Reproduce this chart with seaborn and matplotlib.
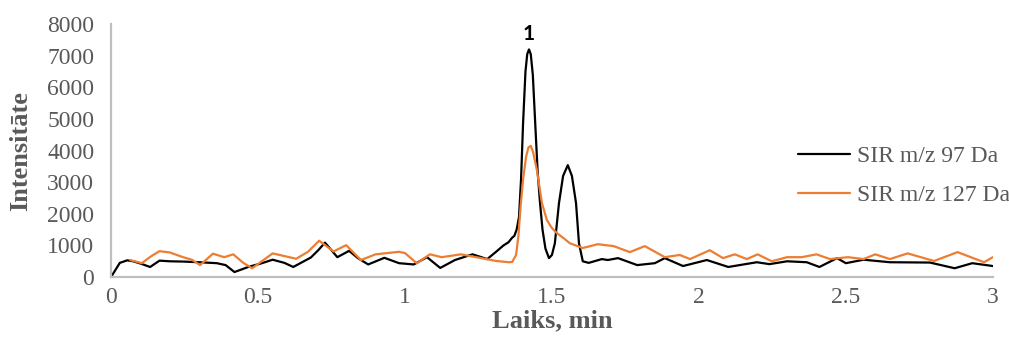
import matplotlib
matplotlib.use("Agg")
import matplotlib.pyplot as plt
import seaborn as sns
import pandas as pd

# Retention time (min) and signal intensity for each SIR channel
time_97 = [0.000, 0.010, 0.030, 0.055, 0.075, 0.100, 0.133, 0.165, 0.200, 0.250,
           0.300, 0.360, 0.390, 0.420, 0.470, 0.510, 0.550, 0.590, 0.620, 0.680,
           0.705, 0.728, 0.750, 0.770, 0.810, 0.840, 0.875, 0.930, 0.980, 1.030,
           1.075, 1.120, 1.170, 1.230, 1.280, 1.310, 1.335, 1.352, 1.365, 1.372,
           1.380, 1.388, 1.395, 1.402, 1.410, 1.416, 1.422, 1.428, 1.435, 1.443,
           1.451, 1.459, 1.468, 1.478, 1.490, 1.500, 1.510, 1.524, 1.538, 1.554,
           1.568, 1.582, 1.592, 1.605, 1.625, 1.670, 1.690, 1.725, 1.790, 1.850,
           1.884, 1.946, 2.027, 2.100, 2.197, 2.240, 2.300, 2.367, 2.410, 2.470,
           2.500, 2.560, 2.650, 2.786, 2.870, 2.930, 3.000]
signal_97 = [0, 150, 450, 530, 500, 430, 320, 520, 500, 490,
             470, 440, 380, 160, 330, 430, 550, 450, 320, 620,
             850, 1090, 850, 630, 830, 600, 400, 610, 440, 400,
             630, 290, 540, 720, 570, 800, 1000, 1100, 1250, 1300,
             1500, 1900, 3100, 4900, 6500, 7050, 7200, 7050, 6400, 4900,
             3400, 2400, 1500, 900, 600, 700, 1070, 2340, 3200, 3540,
             3200, 2340, 1070, 500, 450, 570, 540, 600, 380, 440,
             600, 350, 540, 320, 470, 410, 500, 470, 320, 600,
             440, 550, 470, 460, 280, 440, 350]

time_127 = [0.065, 0.105, 0.135, 0.165, 0.200, 0.245, 0.275, 0.303, 0.347, 0.385,
            0.416, 0.450, 0.480, 0.550, 0.630, 0.670, 0.708, 0.757, 0.800, 0.850,
            0.900, 0.980, 1.000, 1.040, 1.085, 1.125, 1.190, 1.260, 1.310, 1.355,
            1.365, 1.378, 1.386, 1.394, 1.402, 1.412, 1.420, 1.428, 1.436, 1.449,
            1.466, 1.483, 1.500, 1.517, 1.540, 1.561, 1.605, 1.656, 1.710, 1.765,
            1.816, 1.884, 1.935, 1.970, 2.037, 2.082, 2.122, 2.163, 2.200, 2.248,
            2.300, 2.350, 2.400, 2.446, 2.507, 2.560, 2.600, 2.650, 2.710, 2.800,
            2.880, 2.970, 3.000]
signal_127 = [540, 440, 650, 820, 780, 630, 550, 380, 740, 630,
              720, 450, 280, 750, 580, 800, 1150, 810, 1010, 540,
              720, 800, 760, 440, 720, 630, 720, 600, 510, 470,
              480, 700, 1300, 2300, 3100, 3800, 4100, 4150, 3950, 3380,
              2340, 1800, 1550, 1390, 1230, 1070, 920, 1040, 980, 790,
              980, 630, 700, 570, 850, 600, 720, 570, 720, 500,
              630, 630, 720, 570, 630, 570, 720, 570, 750, 510,
              790, 470, 630]

series_labels = ["SIR m/z 97 Da", "SIR m/z 127 Da"]
series_colors = ["#000000", "#ED7D31"]
x_ticks = [0, 0.5, 1, 1.5, 2, 2.5, 3]
x_tick_labels = ["0", "0.5", "1", "1.5", "2", "2.5", "3"]
y_ticks = [0, 1000, 2000, 3000, 4000, 5000, 6000, 7000, 8000]
peak_label = "1"

df_97 = pd.DataFrame({"time": time_97, "signal": signal_97})
df_127 = pd.DataFrame({"time": time_127, "signal": signal_127})

sns.set_theme(style="white")
plt.rcParams["font.family"] = ["Liberation Serif", "DejaVu Serif"]

fig = plt.figure(figsize=(10.09, 3.40), dpi=100)
ax = fig.add_axes([0.110, 0.185, 0.874, 0.744])

sns.lineplot(data=df_97, x="time", y="signal", color=series_colors[0],
             linewidth=1.6, estimator=None, ax=ax, label=series_labels[0])
sns.lineplot(data=df_127, x="time", y="signal", color=series_colors[1],
             linewidth=1.6, estimator=None, ax=ax, label=series_labels[1])

ax.set_xlim(0, 3)
ax.set_ylim(0, 8000)
ax.set_xticks(x_ticks)
ax.set_xticklabels(x_tick_labels)
ax.set_yticks(y_ticks)
ax.tick_params(axis="both", length=0, labelsize=17, colors="#595959")
ax.tick_params(axis="x", pad=7)
ax.tick_params(axis="y", pad=12)

for side in ("top", "right"):
    ax.spines[side].set_visible(False)
for side in ("left", "bottom"):
    ax.spines[side].set_color("#BFBFBF")
    ax.spines[side].set_linewidth(1.6)

ax.set_xlabel("Laiks, min", fontsize=19, fontweight="bold", color="#595959", labelpad=1)
ax.set_ylabel("Intensitāte", fontsize=19, fontweight="bold", color="#595959")
ax.yaxis.set_label_coords(-0.089, 0.5)

# Peak number above the main peak of the m/z 97 trace
peak_idx = signal_97.index(max(signal_97))
ax.annotate(peak_label, xy=(time_97[peak_idx], signal_97[peak_idx]),
            xytext=(0, 4), textcoords="offset points", ha="center", va="bottom",
            fontsize=15, fontweight="bold", color="#000000",
            family=["Lato", "DejaVu Sans"], annotation_clip=False)

leg = ax.legend(loc="center left", bbox_to_anchor=(0.755, 0.40), frameon=False,
                fontsize=17, handlelength=2.2, handletextpad=0.3, labelspacing=0.75)
for text in leg.get_texts():
    text.set_color("#595959")

fig.savefig("out.png", dpi=100)
